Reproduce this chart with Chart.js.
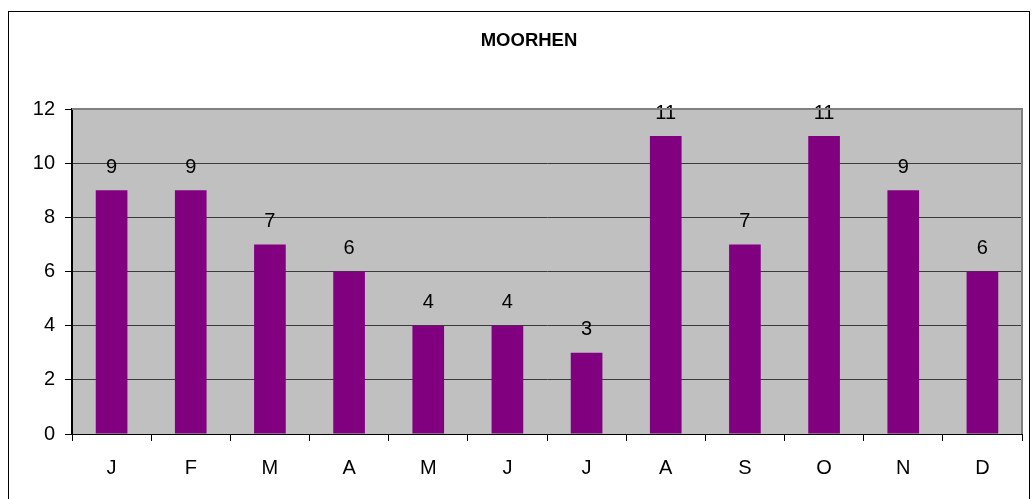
<!DOCTYPE html>
<html>
<head>
<meta charset="utf-8">
<title>MOORHEN</title>
<script src="https://cdn.jsdelivr.net/npm/chart.js@4/dist/chart.umd.min.js"></script>
<style>
    html, body { margin: 0; padding: 0; background: #ffffff; }
    #chart-wrap { width: 1033px; height: 499px; }
</style>
</head>
<body>
<div id="chart-wrap"><canvas id="moorhen-chart"></canvas></div>
<script>
let chartTitle = 'MOORHEN';
let months = ['J', 'F', 'M', 'A', 'M', 'J', 'J', 'A', 'S', 'O', 'N', 'D'];
let counts = [9, 9, 7, 6, 4, 4, 3, 11, 7, 11, 9, 6];
let yTicks = [0, 2, 4, 6, 8, 10, 12];

let fontFamily = '"Liberation Sans", Arial, sans-serif';
let labelFont = '20px ' + fontFamily;

// white page, grey plot area and the outer frame
let framePlugin = {
    id: 'frame',
    beforeDraw: function (chart) {
        let ctx = chart.ctx;
        let area = chart.chartArea;
        ctx.save();
        ctx.fillStyle = '#ffffff';
        ctx.fillRect(0, 0, chart.width, chart.height);
        ctx.fillStyle = '#c0c0c0';
        ctx.fillRect(area.left, area.top, area.right - area.left, area.bottom - area.top);
        ctx.strokeStyle = '#000000';
        ctx.lineWidth = 1;
        ctx.strokeRect(8.5, 11.5, 1021, 500);
        ctx.restore();
    },
    afterDraw: function (chart) {
        let ctx = chart.ctx;
        let area = chart.chartArea;
        ctx.save();
        // grey edge on top and right of the plot
        ctx.strokeStyle = '#808080';
        ctx.lineWidth = 2;
        ctx.beginPath();
        ctx.moveTo(area.left, area.top);
        ctx.lineTo(area.right, area.top);
        ctx.lineTo(area.right, area.bottom);
        ctx.stroke();
        // title
        ctx.fillStyle = '#000000';
        ctx.font = 'bold 18.5px ' + fontFamily;
        ctx.textAlign = 'center';
        ctx.textBaseline = 'middle';
        ctx.fillText(chartTitle, 529, 41);
        ctx.restore();
    }
};

// value written above every bar
let valueLabelPlugin = {
    id: 'valueLabels',
    afterDatasetsDraw: function (chart) {
        let ctx = chart.ctx;
        let meta = chart.getDatasetMeta(0);
        ctx.save();
        ctx.fillStyle = '#000000';
        ctx.font = labelFont;
        ctx.textAlign = 'center';
        ctx.textBaseline = 'middle';
        for (let i = 0; i < meta.data.length; i++) {
            let bar = meta.data[i];
            ctx.fillText(String(counts[i]), bar.x, bar.y - 23);
        }
        ctx.restore();
    }
};

window.onload = function () {
    let ctx = document.getElementById('moorhen-chart').getContext('2d');
    let chart = new Chart(ctx, {
        type: 'bar',
        data: {
            labels: months,
            datasets: [{
                label: chartTitle,
                data: counts,
                backgroundColor: '#800080',
                borderWidth: 0,
                categoryPercentage: 1.0,
                barPercentage: 0.4
            }]
        },
        options: {
            responsive: true,
            maintainAspectRatio: false,
            animation: false,
            layout: {
                padding: { left: 0, top: 109, right: 11, bottom: 0 }
            },
            plugins: {
                legend: { display: false },
                title: { display: false },
                tooltip: { enabled: false }
            },
            scales: {
                x: {
                    offset: true,
                    grid: {
                        offset: true,
                        drawOnChartArea: false,
                        tickLength: 7,
                        tickColor: '#000000'
                    },
                    border: { color: '#000000', width: 1 },
                    ticks: {
                        color: '#000000',
                        font: { family: fontFamily, size: 20 },
                        padding: 15,
                        maxRotation: 0
                    },
                    afterFit: function (scale) {
                        scale.height = 65;
                    }
                },
                y: {
                    min: 0,
                    max: 12,
                    afterBuildTicks: function (scale) {
                        scale.ticks = yTicks.map(v => ({ value: v }));
                    },
                    grid: {
                        color: function (context) {
                            if (context.tick && context.tick.value == 12) {
                                return 'rgba(0,0,0,0)';
                            }
                            return '#3a3a3a';
                        },
                        lineWidth: 1,
                        tickLength: 7,
                        tickColor: '#000000'
                    },
                    border: { color: '#000000', width: 2 },
                    ticks: {
                        color: '#000000',
                        font: { family: fontFamily, size: 20 },
                        padding: 10
                    },
                    afterFit: function (scale) {
                        scale.width = 72;
                    }
                }
            }
        },
        plugins: [framePlugin, valueLabelPlugin]
    });
}
</script>
</body>
</html>
